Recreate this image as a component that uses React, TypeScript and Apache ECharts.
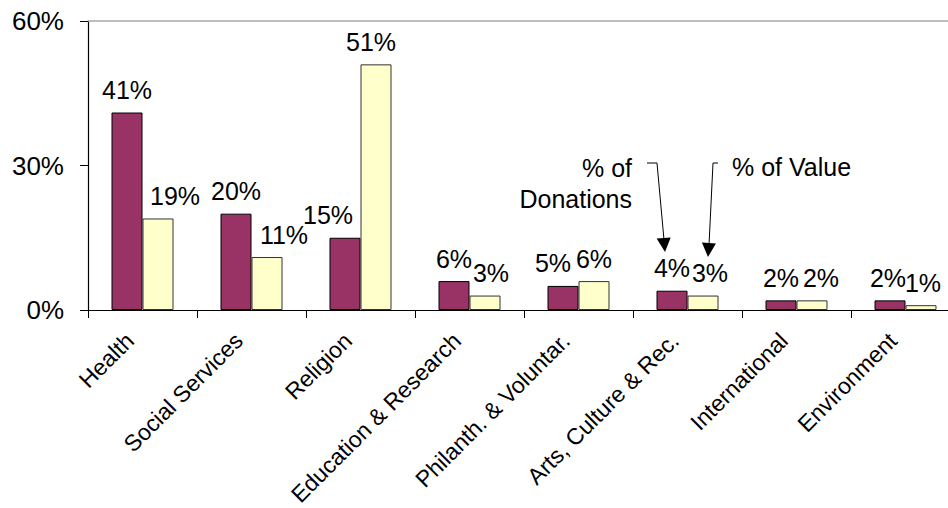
import React, { useEffect, useRef } from "react";
import * as echarts from "echarts";

const categories = [
  "Health",
  "Social Services",
  "Religion",
  "Education & Research",
  "Philanth. & Voluntar.",
  "Arts, Culture & Rec.",
  "International",
  "Environment",
];
const donations = [41, 20, 15, 6, 5, 4, 2, 2];
const value = [19, 11, 51, 3, 6, 3, 2, 1];
const yTicks = [0, 30, 60];

// label nudges (layout only)
const donationLabelShift = [0, 0, -17, 0, -10, 0, 0, -2];
const valueLabelShift = [17, 17, -5, 6, 0, 7, 9, 2];

const FONT = "'Liberation Sans', Arial, Helvetica, sans-serif";
const FS = 25;

export default function App() {
  const ref = useRef<HTMLDivElement>(null);
  useEffect(() => {
    if (!ref.current) return;
    const chart = echarts.init(ref.current, undefined, { renderer: "svg" });
    const mkData = (vals: number[], shifts: number[]) =>
      vals.map((v, i) => ({ value: v, label: { offset: [shifts[i], 0] } }));
    const labelCommon = {
      show: true,
      position: "top" as const,
      distance: 10,
      formatter: "{c}%",
      color: "#000",
      fontSize: FS,
      fontFamily: FONT,
    };
    chart.setOption({
      animation: false,
      backgroundColor: "#fff",
      grid: {
        left: 88,
        top: 21,
        width: 872,
        height: 289,
        containLabel: false,
        outerBoundsMode: "none",
      },
      xAxis: [
        {
          type: "category",
          data: categories,
          boundaryGap: true,
          axisLine: { show: true, lineStyle: { color: "#000", width: 1.2 } },
          axisTick: { show: true, length: 8, lineStyle: { color: "#000" } },
          axisLabel: {
            rotate: 45,
            interval: 0,
            margin: 14,
            padding: [0, 18, 0, 0],
            color: "#000",
            fontSize: 23,
            fontFamily: FONT,
          },
        },
        {
          type: "category",
          position: "top",
          data: categories,
          axisLine: { show: true, lineStyle: { color: "#a8a8a8", width: 1.5 } },
          axisTick: { show: false },
          axisLabel: { show: false },
        },
      ],
      yAxis: {
        type: "value",
        min: yTicks[0],
        max: yTicks[yTicks.length - 1],
        interval: 30,
        axisLine: { show: true, lineStyle: { color: "#000", width: 1.2 } },
        axisTick: { show: true, length: 8, lineStyle: { color: "#000" } },
        splitLine: { show: false },
        axisLabel: {
          formatter: "{value}%",
          margin: 24,
          color: "#000",
          fontSize: 26,
          fontFamily: FONT,
        },
      },
      series: [
        {
          name: "% of Donations",
          type: "bar",
          data: mkData(donations, donationLabelShift),
          barWidth: 31,
          barGap: "0%",
          itemStyle: { color: "#993366", borderColor: "#000", borderWidth: 1 },
          label: labelCommon,
        },
        {
          name: "% of Value",
          type: "bar",
          data: mkData(value, valueLabelShift),
          barWidth: 31,
          barGap: "0%",
          itemStyle: { color: "#FFFFCC", borderColor: "#333", borderWidth: 1 },
          label: labelCommon,
        },
      ],
      graphic: [
        {
          type: "text",
          x: 632,
          y: 168,
          style: {
            text: "% of",
            fontSize: FS,
            fontFamily: FONT,
            fill: "#000",
            align: "right",
            verticalAlign: "middle",
          },
        },
        {
          type: "text",
          x: 632,
          y: 199,
          style: {
            text: "Donations",
            fontSize: FS,
            fontFamily: FONT,
            fill: "#000",
            align: "right",
            verticalAlign: "middle",
          },
        },
        {
          type: "text",
          x: 732,
          y: 167,
          style: {
            text: "% of Value",
            fontSize: FS,
            fontFamily: FONT,
            fill: "#000",
            align: "left",
            verticalAlign: "middle",
          },
        },
        {
          type: "polyline",
          shape: { points: [[647, 163], [657, 163], [664, 240]] },
          style: { stroke: "#000", lineWidth: 1, fill: null },
        },
        {
          type: "polygon",
          shape: { points: [[656.7, 238.6], [670.7, 237.4], [665, 252]] },
          style: { fill: "#000" },
        },
        {
          type: "polyline",
          shape: { points: [[718, 163], [713, 163], [709, 245]] },
          style: { stroke: "#000", lineWidth: 1, fill: null },
        },
        {
          type: "polygon",
          shape: { points: [[701.9, 242.6], [715.9, 243.4], [708, 257]] },
          style: { fill: "#000" },
        },
      ],
    });
    return () => chart.dispose();
  }, []);
  return (
    <div
      ref={ref}
      style={{ position: "absolute", left: 0, top: 0, width: 948, height: 508 }}
    />
  );
}
